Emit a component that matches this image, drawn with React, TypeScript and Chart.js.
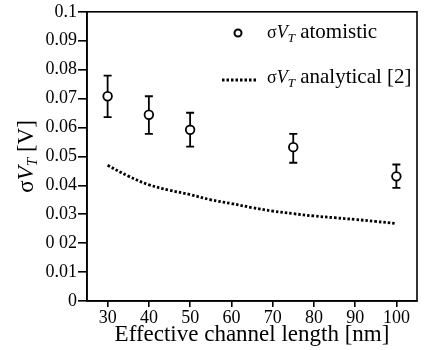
import { useEffect, useRef } from "react";
import { Chart, registerables } from "chart.js";

Chart.register(...registerables);

// channel lengths [nm] for atomistic simulations
const lengths = [30, 40, 50, 75, 100];
// sigma VT atomistic [V]
const atomistic = [0.0708, 0.0644, 0.0592, 0.0532, 0.0431];
const errUpper = [0.0779, 0.0708, 0.0651, 0.0578, 0.0472];
const errLower = [0.0636, 0.0578, 0.0534, 0.0478, 0.0391];
// analytical model curve
const analyticalX = [30, 35, 40, 45, 50, 55, 60, 65, 70, 75, 80, 85, 90, 95, 100];
const analytical = [0.0469, 0.0432, 0.0402, 0.0383, 0.0368, 0.035, 0.0337, 0.0323, 0.0311, 0.0302, 0.0294, 0.0288, 0.0282, 0.0275, 0.0268];
const xTicks = [30, 40, 50, 60, 70, 80, 90, 100];
const yTicks = [0, 0.01, 0.02, 0.03, 0.04, 0.05, 0.06, 0.07, 0.08, 0.09, 0.1];
const yTickLabels = ["0", "0.01", "0 02", "0.03", "0.04", "0.05", "0.06", "0.07", "0.08", "0.09", "0.1"];
const xTitle = "Effective channel length [nm]";

const SERIF = "'Liberation Serif', 'Times New Roman', serif";

type Part = { text: string; font: string; dy?: number };

function drawRich(ctx: CanvasRenderingContext2D, parts: Part[], x: number, y: number, align: "left" | "center" = "left") {
  let total = 0;
  for (const p of parts) {
    ctx.font = p.font;
    total += ctx.measureText(p.text).width;
  }
  let cx = align === "center" ? x - total / 2 : x;
  ctx.textBaseline = "alphabetic";
  ctx.textAlign = "left";
  for (const p of parts) {
    ctx.font = p.font;
    ctx.fillText(p.text, cx, y + (p.dy || 0));
    cx += ctx.measureText(p.text).width;
  }
}

const errorBarPlugin = {
  id: "errorBars",
  beforeDatasetsDraw(chart: any) {
    const { ctx, scales } = chart;
    const xs = scales.x;
    const ys = scales.y;
    ctx.save();
    ctx.strokeStyle = "#000";
    ctx.lineWidth = 1.8;
    for (let i = 0; i < lengths.length; i++) {
      const x = xs.getPixelForValue(lengths[i]);
      const yt = ys.getPixelForValue(errUpper[i]);
      const yb = ys.getPixelForValue(errLower[i]);
      ctx.beginPath();
      ctx.moveTo(x, yt);
      ctx.lineTo(x, yb);
      ctx.moveTo(x - 4, yt);
      ctx.lineTo(x + 4, yt);
      ctx.moveTo(x - 4, yb);
      ctx.lineTo(x + 4, yb);
      ctx.stroke();
    }
    ctx.restore();
  },
};

const decorPlugin = {
  id: "decor",
  afterDraw(chart: any) {
    const { ctx, chartArea } = chart;
    ctx.save();
    // frame
    ctx.strokeStyle = "#000";
    ctx.lineWidth = 1.6;
    ctx.strokeRect(chartArea.left, chartArea.top, chartArea.right - chartArea.left, chartArea.bottom - chartArea.top);

    ctx.fillStyle = "#000";
    // y-axis title
    ctx.save();
    ctx.translate(26, (chartArea.top + chartArea.bottom) / 2);
    ctx.rotate(-Math.PI / 2);
    drawRich(
      ctx,
      [
        { text: "σ", font: `23px ${SERIF}` },
        { text: "V", font: `italic 23px ${SERIF}` },
        { text: "T", font: `italic 15px ${SERIF}`, dy: 4 },
        { text: " [V]", font: `23px ${SERIF}` },
      ],
      0,
      7,
      "center"
    );
    ctx.restore();

    // legend
    const lx = chartArea.left + 180;
    // marker
    ctx.beginPath();
    ctx.arc(chartArea.left + 151, 33, 3.5, 0, Math.PI * 2);
    ctx.fillStyle = "#fff";
    ctx.fill();
    ctx.lineWidth = 2;
    ctx.strokeStyle = "#000";
    ctx.stroke();
    ctx.fillStyle = "#000";
    drawRich(
      ctx,
      [
        { text: "σ", font: `18px ${SERIF}` },
        { text: "V", font: `italic 18px ${SERIF}` },
        { text: "T", font: `italic 13px ${SERIF}`, dy: 4 },
        { text: " atomistic", font: `21px ${SERIF}` },
      ],
      lx,
      38
    );
    // dotted line sample
    ctx.beginPath();
    ctx.setLineDash([2.5, 2]);
    ctx.lineWidth = 2.8;
    ctx.moveTo(chartArea.left + 135, 80);
    ctx.lineTo(chartArea.left + 171, 80);
    ctx.stroke();
    ctx.setLineDash([]);
    drawRich(
      ctx,
      [
        { text: "σ", font: `18px ${SERIF}` },
        { text: "V", font: `italic 18px ${SERIF}` },
        { text: "T", font: `italic 13px ${SERIF}`, dy: 4 },
        { text: " analytical [2]", font: `21px ${SERIF}` },
      ],
      lx,
      83
    );
    ctx.restore();
  },
};

export default function App() {
  const ref = useRef<HTMLCanvasElement | null>(null);
  useEffect(() => {
    document.body.style.margin = "0";
    const canvas = ref.current;
    if (!canvas) return;
    const chart = new Chart(canvas, {
      type: "scatter",
      data: {
        datasets: [
          {
            label: "analytical",
            data: analyticalX.map((x, i) => ({ x, y: analytical[i] })),
            showLine: true,
            borderColor: "#000",
            borderWidth: 2.8,
            borderDash: [2.5, 2],
            pointRadius: 0,
            tension: 0.4,
            fill: false,
          },
          {
            label: "atomistic",
            data: lengths.map((x, i) => ({ x, y: atomistic[i] })),
            showLine: false,
            pointRadius: 4.3,
            pointBorderWidth: 1.8,
            pointBackgroundColor: "#fff",
            pointBorderColor: "#000",
            backgroundColor: "#fff",
            borderColor: "#000",
          },
        ],
      },
      options: {
        animation: false,
        responsive: false,
        layout: { padding: { top: 11, right: 7, left: 0, bottom: 0 } },
        plugins: {
          legend: { display: false },
          tooltip: { enabled: false },
        },
        scales: {
          x: {
            type: "linear",
            min: 25,
            max: 105,
            afterFit: (s: any) => {
              s.height = 49;
            },
            afterBuildTicks: (s: any) => {
              s.ticks = xTicks.map((v) => ({ value: v }));
            },
            grid: { display: true, drawOnChartArea: false, drawTicks: true, tickLength: 6, color: "#000", lineWidth: 1.6 },
            border: { display: true, color: "#000", width: 1.6 },
            ticks: {
              color: "#000",
              padding: 0,
              font: { family: SERIF, size: 18 },
              maxRotation: 0,
              callback: (v: any) => String(v),
            },
            title: {
              display: true,
              text: xTitle,
              color: "#000",
              font: { family: SERIF, size: 23 },
              padding: { top: 0, bottom: 1 },
            },
          },
          y: {
            type: "linear",
            min: 0,
            max: 0.1,
            afterFit: (s: any) => {
              s.width = 87;
            },
            afterBuildTicks: (s: any) => {
              s.ticks = yTicks.map((v) => ({ value: v }));
            },
            grid: { display: true, drawOnChartArea: false, drawTicks: true, tickLength: 9, color: "#000", lineWidth: 1.6 },
            border: { display: true, color: "#000", width: 1.6 },
            ticks: {
              color: "#000",
              padding: 1,
              font: { family: SERIF, size: 18 },
              callback: (v: any) => {
                const idx = yTicks.findIndex((t) => Math.abs(t - v) < 1e-9);
                return idx >= 0 ? yTickLabels[idx] : "";
              },
            },
          },
        },
      },
      plugins: [errorBarPlugin, decorPlugin],
    });
    return () => chart.destroy();
  }, []);
  return (
    <div style={{ width: 424, height: 350, background: "#fff" }}>
      <canvas ref={ref} width={424} height={350} />
    </div>
  );
}
